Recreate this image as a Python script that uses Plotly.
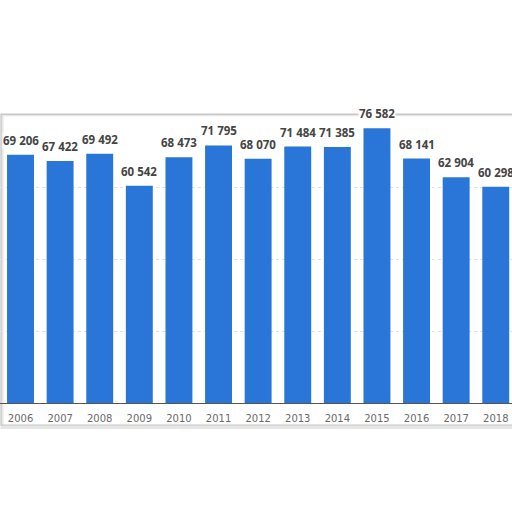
import plotly.graph_objects as go

years = ["2006", "2007", "2008", "2009", "2010", "2011", "2012",
         "2013", "2014", "2015", "2016", "2017", "2018"]
values = [69206, 67422, 69492, 60542, 68473, 71795, 68070,
          71484, 71385, 76582, 68141, 62904, 60298]
grid_vals = [0, 20000, 40000, 60000]

BAR = "#2a75d8"

fig = go.Figure()
fig.add_trace(go.Bar(
    x=years, y=values, marker=dict(color=BAR, line=dict(width=0)),
    hoverinfo="skip",
))

def fmt(v):
    return f"{v:,}".replace(",", " ")

annotations = [
    dict(x=i, y=v, xref="x", yref="y", text="<b>" + fmt(v) + "</b>", showarrow=False,
         yanchor="bottom", yshift=6, bgcolor="white", borderpad=0,
         font=dict(family="Open Sans", size=11.5, color="#444444"))
    for i, v in enumerate(values)
]

shapes = [
    dict(type="rect", xref="paper", yref="paper", x0=0.004, x1=1.05, y0=-0.085, y1=1.004,
         line=dict(color="#e6e6e6", width=3), layer="below"),
    dict(type="rect", xref="paper", yref="paper", x0=0.002, x1=1.05, y0=-0.077, y1=1.006,
         line=dict(color="#c8c8c8", width=1.2), layer="below"),
]

fig.update_layout(
    width=512, height=512,
    margin=dict(l=0, r=0, t=116, b=109),
    paper_bgcolor="white", plot_bgcolor="white",
    showlegend=False,
    bargap=0.32,
    annotations=annotations,
    shapes=shapes,
    xaxis=dict(
        type="category", range=[-0.518, 12.41],
        showgrid=False, zeroline=False,
        showline=True, linecolor="#555555", linewidth=1.2,
        ticks="", ticklabelstandoff=6,
        tickfont=dict(family="DejaVu Sans", size=10, color="#6a6a6a"),
    ),
    yaxis=dict(
        range=[0, 80000], tickvals=grid_vals, showticklabels=False,
        showgrid=True, gridcolor="#e2e2e2", griddash="dot", gridwidth=1,
        zeroline=False, showline=False,
    ),
)

fig.write_html("out.html", config={"displayModeBar": False},
               post_script="document.body.style.margin='0';document.body.style.overflow='hidden';")
